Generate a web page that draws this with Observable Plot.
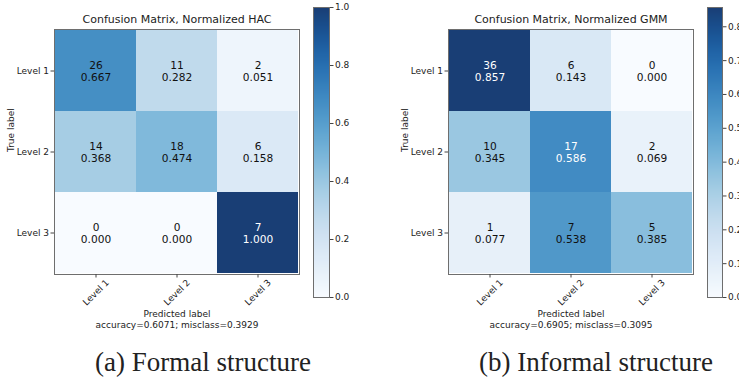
<!DOCTYPE html>
<html>
<head>
<meta charset="utf-8">
<script src="https://cdn.jsdelivr.net/npm/d3@7"></script>
<script src="https://cdn.jsdelivr.net/npm/@observablehq/plot@0.6"></script>
<style>
  html, body { margin: 0; padding: 0; background: #fff; }
  #root { position: relative; width: 739px; height: 378px; overflow: hidden; background: #fff; }
  .abs { position: absolute; }
  .caption { position: absolute; font-family: "Liberation Serif", serif; font-size: 27px; color: #222; white-space: nowrap; transform: translate(-50%, -50%); }
</style>
</head>
<body>
<div id="root"></div>
<script>
// ---- data ----
const levels = ["Level 1", "Level 2", "Level 3"];
const hacCounts = [[26, 11, 2], [14, 18, 6], [0, 0, 7]];
const hacNorm = [[0.667, 0.282, 0.051], [0.368, 0.474, 0.158], [0.000, 0.000, 1.000]];
const gmmCounts = [[36, 6, 0], [10, 17, 2], [1, 7, 5]];
const gmmNorm = [[0.857, 0.143, 0.000], [0.345, 0.586, 0.069], [0.077, 0.538, 0.385]];
const titles = ["Confusion Matrix, Normalized HAC", "Confusion Matrix, Normalized GMM"];
const xLabel = "Predicted label";
const yLabel = "True label";
const accuracyLines = ["accuracy=0.6071; misclass=0.3929", "accuracy=0.6905; misclass=0.3095"];
const captions = ["(a) Formal structure", "(b) Informal structure"];
const hacTicks = [0.0, 0.2, 0.4, 0.6, 0.8, 1.0];
const gmmTicks = [0.0, 0.1, 0.2, 0.3, 0.4, 0.5, 0.6, 0.7, 0.8];

const FONT = "DejaVu Sans, sans-serif";
const root = document.getElementById("root");
const blues = t => d3.interpolateRgb(d3.interpolateBlues(t), "#ffffff")(0.07);

function place(node, left, top) {
  node.classList.add("abs");
  node.style.left = left + "px";
  node.style.top = top + "px";
  root.appendChild(node);
}

function buildRows(counts, norm) {
  const rows = [];
  levels.forEach((t, i) => levels.forEach((p, j) => {
    rows.push({ truth: t, pred: p, count: counts[i][j], norm: norm[i][j] });
  }));
  return rows;
}

function matrixPlot(counts, norm, title, acc) {
  const rows = buildRows(counts, norm);
  const vmax = d3.max(norm.flat());
  const thresh = vmax / 1.5 + 0.001;
  return Plot.plot({
    width: 300, height: 330,
    marginLeft: 54, marginRight: 1, marginTop: 29, marginBottom: 56,
    style: { fontFamily: FONT, fontSize: "9px", color: "#222", background: "transparent", overflow: "visible" },
    x: { type: "band", domain: levels, padding: 0 },
    y: { type: "band", domain: levels, padding: 0 },
    color: { type: "linear", interpolate: () => blues, domain: [0, vmax] },
    marks: [
      Plot.cell(rows, { x: "pred", y: "truth", fill: "norm", inset: 0 }),
      Plot.text(rows, {
        x: "pred", y: "truth",
        text: d => `${d.count}\n${d.norm.toFixed(3)}`,
        fill: d => d.norm > thresh ? "white" : "#111",
        fontSize: 10.6, lineHeight: 1.17, fontFamily: FONT
      }),
      Plot.frame({ stroke: "#6e6e6e", strokeWidth: 1 }),
      Plot.axisY({ tickSize: 3.5, tickPadding: 2, label: null, fontSize: 9, stroke: "#444" }),
      Plot.axisX({ tickSize: 3.5, tickFormat: () => "", label: null, stroke: "#444" }),
      Plot.text(levels, { x: d => d, frameAnchor: "bottom", dy: 18, rotate: -45, textAnchor: "middle", lineAnchor: "middle", fontSize: 9, fill: "#222" }),
      Plot.text([xLabel + "\n" + acc], { frameAnchor: "bottom", dy: 44.5, lineAnchor: "middle", lineHeight: 1.2, fontSize: 9, fill: "#222" }),
      Plot.text([yLabel], { frameAnchor: "left", dx: -43, rotate: -90, fontSize: 9, fill: "#222" }),
      Plot.text([title], { frameAnchor: "top", dy: -7, lineAnchor: "bottom", fontSize: 11, fill: "#222" })
    ]
  });
}

function colorbar(vmax, ticks, barWidth) {
  return Plot.plot({
    width: barWidth + 30, height: 302,
    marginLeft: 0, marginRight: 30, marginTop: 6, marginBottom: 6,
    style: { fontFamily: FONT, fontSize: "9px", color: "#222", background: "transparent", overflow: "visible" },
    x: { domain: [0, 1], axis: null },
    y: { domain: [0, vmax], axis: null },
    color: { type: "linear", interpolate: () => blues, domain: [0, vmax] },
    marks: [
      Plot.raster({ x1: 0, x2: 1, y1: 0, y2: vmax, fill: (x, y) => y, pixelSize: 1, interpolate: null }),
      Plot.frame({ stroke: "#6e6e6e", strokeWidth: 1 }),
      Plot.axisY({ anchor: "right", ticks: ticks, tickFormat: d3.format(".1f"), tickSize: 3.5, tickPadding: 2, label: null, fontSize: 9, stroke: "#444" })
    ]
  });
}

place(matrixPlot(hacCounts, hacNorm, titles[0], accuracyLines[0]), 0, 0);
place(colorbar(d3.max(hacNorm.flat()), hacTicks, 16), 313, 1);
place(matrixPlot(gmmCounts, gmmNorm, titles[1], accuracyLines[1]), 394, 0);
place(colorbar(d3.max(gmmNorm.flat()), gmmTicks, 15), 707, 1);

[[captions[0], 203], [captions[1], 596]].forEach(([t, cx]) => {
  const d = document.createElement("div");
  d.className = "caption";
  d.textContent = t;
  d.style.left = cx + "px";
  d.style.top = "362px";
  root.appendChild(d);
});
</script>
</body>
</html>
